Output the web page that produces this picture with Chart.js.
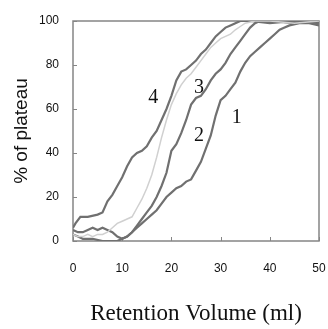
<!DOCTYPE html>
<html>
<head>
<meta charset="utf-8">
<script src="https://cdn.jsdelivr.net/npm/chart.js@4/dist/chart.umd.min.js"></script>
<style>
  html, body { margin: 0; padding: 0; background: #fff; overflow: hidden; }
  #wrap { width: 328px; height: 329px; }
  canvas { display: block; }
</style>
</head>
<body>
<div id="wrap"><canvas id="plateau-chart"></canvas></div>
<script>
// data

const xTicks = [0, 10, 20, 30, 40, 50];
const yTicks = [0, 20, 40, 60, 80, 100];

// curve 4 (leftmost)
const curve4X = [0, 0.5, 1.5, 3, 5, 6, 7, 8, 9, 10, 11, 12, 13, 14, 15, 16, 17, 18, 19, 20, 21, 22, 23, 24, 25, 26, 27, 28, 29, 30, 31, 32, 33, 34, 36, 40, 45, 50];
const curve4Y = [6, 8, 11, 11, 12, 13, 18, 21, 25, 29, 34, 38, 40, 41, 43, 47, 50, 55, 60, 66, 73, 77, 78, 80, 82, 85, 87, 90, 93, 95, 97, 98, 99, 100, 100, 99, 100, 99];

// curve 3 (light)
const curve3X = [0, 1, 2, 3, 4, 5, 6, 7, 8, 9, 10, 11, 12, 13, 14, 15, 16, 17, 18, 19, 20, 21, 22, 23, 24, 25, 26, 27, 28, 29, 30, 31, 32, 33, 34, 35, 37, 40, 45, 50];
const curve3Y = [3, 2, 2, 3, 2, 3, 3, 4, 6, 8, 9, 10, 11, 15, 19, 24, 30, 38, 47, 55, 62, 67, 71, 74, 76, 79, 82, 85, 88, 90, 92, 93, 94, 96, 97.5, 99, 100, 100, 99, 100];

// curve 2 (middle)
const curve2X = [0, 1, 2, 3, 4, 5, 6, 7, 8, 9, 10, 11, 12, 13, 14, 15, 16, 17, 18, 19, 20, 21, 22, 23, 24, 25, 26, 27, 28, 29, 30, 31, 32, 33, 34, 35, 36, 37, 38, 40, 45, 50];
const curve2Y = [5, 4, 4, 5, 6, 5, 6, 5, 4, 2, 1, 2, 4, 7, 10, 13, 16, 20, 25, 31, 41, 44, 49, 55, 62, 65, 66, 69, 73, 76, 78, 81, 85, 88, 91, 94, 97, 99, 100, 100, 99, 100];

// curve 1 (rightmost)
const curve1X = [0, 1, 2, 3, 4, 6, 8, 9, 10, 11, 12, 13, 14, 15, 16, 17, 18, 19, 20, 21, 22, 23, 24, 25, 26, 27, 28, 29, 30, 31, 32, 33, 34, 35, 36, 37, 38, 39, 40, 41, 42, 43, 44, 46, 48, 50];
const curve1Y = [3, 2, 1, 1, 1, 0, 0, 0, 1, 2, 4, 6, 8, 10, 12, 14, 17, 20, 22, 24, 25, 27, 28, 32, 36, 42, 48, 57, 64, 66, 69, 72, 77, 81, 84, 86, 88, 90, 92, 94, 96, 97, 98, 99, 99, 98];

// curve number labels, placed in data units
const labelText = ['4', '3', '2', '1'];
const labelX = [16.3, 25.6, 25.6, 33.3];
const labelY = [65, 69.5, 48, 56];

const frameColor = '#858585';

function toPoints(xs, ys) {
    return xs.map((x, i) => ({ x: x, y: ys[i] }));
}

function curve(xs, ys, color, width) {
    return {
        data: toPoints(xs, ys),
        borderColor: color,
        borderWidth: width,
        pointRadius: 0,
        tension: 0,
        fill: false
    };
}

// box and inner tick marks, drawn under the curves
const frame = {
    id: 'frame',
    beforeDatasetsDraw(chart) {
        const c = chart.ctx;
        const a = chart.chartArea;
        const xs = chart.scales.x;
        const ys = chart.scales.y;
        c.save();
        c.strokeStyle = frameColor;
        c.lineWidth = 1.5;
        c.setLineDash([]);
        c.strokeRect(a.left, a.top, a.right - a.left, a.bottom - a.top);
        c.lineWidth = 1;
        c.beginPath();
        xTicks.forEach(v => {
            const px = Math.round(xs.getPixelForValue(v)) + 0.5;
            c.moveTo(px, a.bottom);
            c.lineTo(px, a.bottom - 4);
        });
        yTicks.forEach(v => {
            const py = Math.round(ys.getPixelForValue(v)) + 0.5;
            c.moveTo(a.left, py);
            c.lineTo(a.left + 4, py);
        });
        c.stroke();
        c.restore();
    }
};

// curve numbers
const curveNumbers = {
    id: 'curveNumbers',
    afterDraw(chart) {
        const c = chart.ctx;
        const xs = chart.scales.x;
        const ys = chart.scales.y;
        c.save();
        c.fillStyle = '#111';
        c.font = '20px "Liberation Serif", "Times New Roman", serif';
        c.textAlign = 'center';
        c.textBaseline = 'middle';
        labelText.forEach((t, i) => {
            c.fillText(t, xs.getPixelForValue(labelX[i]), ys.getPixelForValue(labelY[i]));
        });
        c.restore();
    }
};

new Chart(document.getElementById('plateau-chart'), {
    type: 'line',
    data: {
        datasets: [
            curve(curve3X, curve3Y, '#d0d0d0', 1.5),
            curve(curve1X, curve1Y, '#707070', 2.2),
            curve(curve2X, curve2Y, '#707070', 2.2),
            curve(curve4X, curve4Y, '#707070', 2.2)
        ]
    },
    options: {
        responsive: true,
        maintainAspectRatio: false,
        animation: false,
        layout: { padding: { left: 0, top: 21, right: 9, bottom: 0 } },
        plugins: {
            legend: { display: false },
            tooltip: { enabled: false }
        },
        scales: {
            x: {
                type: 'linear',
                min: 0,
                max: 50,
                afterFit: (s) => { s.height = 88; s.paddingLeft = 0; s.paddingRight = 0; },
                afterBuildTicks: (s) => { s.ticks = xTicks.map(v => ({ value: v })); },
                grid: { display: false },
                border: { display: false },
                ticks: {
                    padding: 12,
                    color: '#111',
                    font: { family: '"Liberation Sans", Arial, sans-serif', size: 12 }
                },
                title: {
                    display: true,
                    text: 'Retention Volume (ml)',
                    color: '#111',
                    padding: { top: 0, bottom: 1 },
                    font: { family: '"Liberation Serif", "Times New Roman", serif', size: 23 }
                }
            },
            y: {
                min: 0,
                max: 100,
                afterFit: (s) => { s.width = 73; },
                afterBuildTicks: (s) => { s.ticks = yTicks.map(v => ({ value: v })); },
                grid: { display: false },
                border: { display: false },
                ticks: {
                    padding: 6,
                    color: '#111',
                    font: { family: '"Liberation Sans", Arial, sans-serif', size: 12 }
                },
                title: {
                    display: true,
                    text: '% of plateau',
                    color: '#111',
                    padding: { top: 10, bottom: 0 },
                    font: { family: '"Liberation Sans", Arial, sans-serif', size: 19 }
                }
            }
        }
    },
    plugins: [frame, curveNumbers]
});
</script>
</body>
</html>
